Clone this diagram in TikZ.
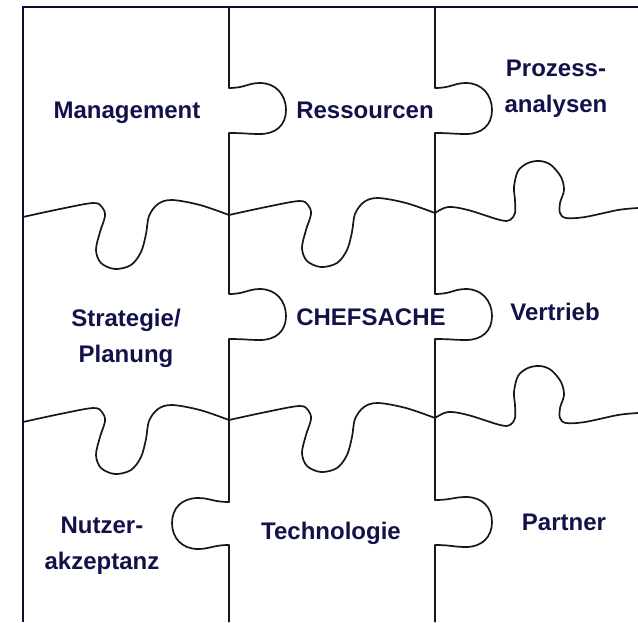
\documentclass[tikz,border=0pt]{standalone}
\usepackage{fontspec}
\setmainfont{Liberation Sans}
\usepackage{xcolor}

\definecolor{framenavy}{HTML}{0A0A3C}
\definecolor{textnavy}{HTML}{12124A}
\definecolor{seamdark}{HTML}{16161E}

\begin{document}
\begin{tikzpicture}[x=1pt, y=-1pt,
    frame/.style={draw=framenavy, line width=2.8pt},
    seam/.style={draw=seamdark, line width=1.7pt, line join=round},
    piece/.style={font=\fontsize{24}{36}\selectfont\bfseries, text=textnavy, align=center, inner sep=0pt}]

    \useasboundingbox (0,0) rectangle (638,622);

    % outer frame, only top and left edge
    \draw[frame] (23,622) -- (23,7) -- (638,7);

    % horizontal seams
    \draw[seam] plot[smooth, tension=0.55] coordinates {(23,217) (60,209) (93,203) (102,207) (105,216) (100,232) (96,250) (101,263) (115,269) (131,265) (141,252) (146,234) (149,216) (158,204) (172,200) (200,205) (229,215)};
    \draw[seam, shift={(206,-2)}] plot[smooth, tension=0.55] coordinates {(23,217) (60,209) (93,203) (102,207) (105,216) (100,232) (96,250) (101,263) (115,269) (131,265) (141,252) (146,234) (149,216) (158,204) (172,200) (200,205) (229,215)};
    \draw[seam] plot[smooth, tension=0.55] coordinates {(435,213) (448,207) (468,210) (500,220) (510,220) (515,213) (515,200) (514,187) (518,171) (528,163) (540,161) (551,165) (561,177) (564,190) (560,203) (560,213) (566,218) (585,217) (618,210) (638,208)};

    \draw[seam, shift={(0,205)}] plot[smooth, tension=0.55] coordinates {(23,217) (60,209) (93,203) (102,207) (105,216) (100,232) (96,250) (101,263) (115,269) (131,265) (141,252) (146,234) (149,216) (158,204) (172,200) (200,205) (229,215)};
    \draw[seam, shift={(206,203)}] plot[smooth, tension=0.55] coordinates {(23,217) (60,209) (93,203) (102,207) (105,216) (100,232) (96,250) (101,263) (115,269) (131,265) (141,252) (146,234) (149,216) (158,204) (172,200) (200,205) (229,215)};
    \draw[seam, shift={(0,205)}] plot[smooth, tension=0.55] coordinates {(435,213) (448,207) (468,210) (500,220) (510,220) (515,213) (515,200) (514,187) (518,171) (528,163) (540,161) (551,165) (561,177) (564,190) (560,203) (560,213) (566,218) (585,217) (618,210) (638,208)};

    % vertical seams
    \draw[seam] (229,7) -- (229,88)
        .. controls (245,88) and (248,83) .. (260,83) .. controls (276,83) and (286,95) .. (286,110)
        .. controls (286,125) and (276,134) .. (260,134) .. controls (248,134) and (245,133) .. (229,133)
        -- (229,294)
        .. controls (245,294) and (248,289) .. (260,289) .. controls (276,289) and (286,301) .. (286,316)
        .. controls (286,331) and (276,340) .. (260,340) .. controls (248,340) and (245,339) .. (229,339)
        -- (229,502)
        .. controls (213,502) and (210,498) .. (198,498) .. controls (182,498) and (172,508) .. (172,523)
        .. controls (172,538) and (182,549) .. (198,549) .. controls (210,549) and (213,545) .. (229,545)
        -- (229,622);
    \draw[seam] (435,7) -- (435,88)
        .. controls (451,88) and (454,83) .. (466,83) .. controls (482,83) and (492,95) .. (492,110)
        .. controls (492,125) and (482,134) .. (466,134) .. controls (454,134) and (451,133) .. (435,133)
        -- (435,294)
        .. controls (451,294) and (454,289) .. (466,289) .. controls (482,289) and (492,301) .. (492,316)
        .. controls (492,331) and (482,340) .. (466,340) .. controls (454,340) and (451,339) .. (435,339)
        -- (435,500)
        .. controls (451,500) and (454,497) .. (466,497) .. controls (482,497) and (492,507) .. (492,522)
        .. controls (492,537) and (482,547) .. (466,547) .. controls (454,547) and (451,545) .. (435,545)
        -- (435,622);

    % labels
    \node[piece, anchor=base] (management) at (127,118) {Management};
    \node[piece, anchor=base] (ressourcen) at (365,118) {Ressourcen};
    \node[piece] (prozess) at (556,89) {Prozess-\\analysen};
    \node[piece] (strategie) at (126,338) {Strategie/\\Planung};
    \node[piece, anchor=base] (chefsache) at (371,325) {CHEFSACHE};
    \node[piece, anchor=base] (vertrieb) at (555,320) {Vertrieb};
    \node[piece] (nutzer) at (102,546) {Nutzer-\\akzeptanz};
    \node[piece, anchor=base] (technologie) at (331,539) {Technologie};
    \node[piece, anchor=base] (partner) at (564,530) {Partner};
\end{tikzpicture}
\end{document}
